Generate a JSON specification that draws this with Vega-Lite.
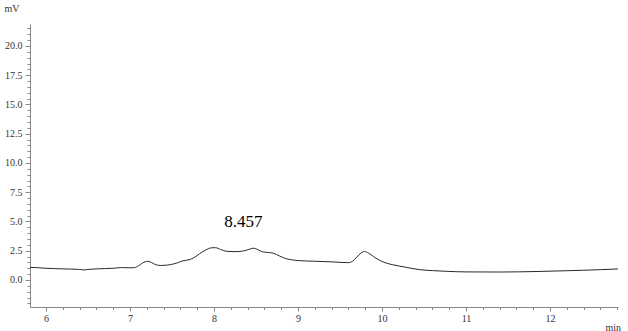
{
  "$schema": "https://vega.github.io/schema/vega-lite/v6.json",
  "autosize": "none",
  "width": 588,
  "height": 283,
  "padding": {"left": 30, "top": 24, "right": 10, "bottom": 24},
  "background": "white",
  "config": {"view": {"stroke": null}, "axis": {"grid": false}},
  "resolve": {"axis": {"x": "independent", "y": "independent"}, "scale": {"x": "shared", "y": "shared"}},
  "datasets": {
    "trace": [
      {"t": 5.81, "v": 1.08}, {"t": 5.9, "v": 1.05}, {"t": 6.0, "v": 1.0}, {"t": 6.2, "v": 0.95},
      {"t": 6.4, "v": 0.9}, {"t": 6.45, "v": 0.86}, {"t": 6.5, "v": 0.9}, {"t": 6.6, "v": 0.95},
      {"t": 6.8, "v": 1.0}, {"t": 6.9, "v": 1.06}, {"t": 7.0, "v": 1.04}, {"t": 7.05, "v": 1.05},
      {"t": 7.1, "v": 1.2}, {"t": 7.15, "v": 1.45}, {"t": 7.21, "v": 1.6}, {"t": 7.26, "v": 1.48},
      {"t": 7.3, "v": 1.33}, {"t": 7.36, "v": 1.24}, {"t": 7.45, "v": 1.28}, {"t": 7.52, "v": 1.37},
      {"t": 7.58, "v": 1.5}, {"t": 7.62, "v": 1.62}, {"t": 7.7, "v": 1.72}, {"t": 7.76, "v": 1.9},
      {"t": 7.83, "v": 2.25}, {"t": 7.9, "v": 2.55}, {"t": 7.97, "v": 2.75}, {"t": 8.02, "v": 2.76},
      {"t": 8.08, "v": 2.6}, {"t": 8.15, "v": 2.45}, {"t": 8.25, "v": 2.42}, {"t": 8.35, "v": 2.48},
      {"t": 8.42, "v": 2.62}, {"t": 8.47, "v": 2.72}, {"t": 8.52, "v": 2.6}, {"t": 8.58, "v": 2.4},
      {"t": 8.65, "v": 2.35}, {"t": 8.71, "v": 2.28}, {"t": 8.78, "v": 2.05}, {"t": 8.87, "v": 1.8},
      {"t": 8.95, "v": 1.7}, {"t": 9.0, "v": 1.66}, {"t": 9.2, "v": 1.6}, {"t": 9.4, "v": 1.55},
      {"t": 9.6, "v": 1.48}, {"t": 9.65, "v": 1.6}, {"t": 9.7, "v": 1.95}, {"t": 9.75, "v": 2.3},
      {"t": 9.79, "v": 2.43}, {"t": 9.84, "v": 2.3}, {"t": 9.9, "v": 2.0}, {"t": 9.98, "v": 1.65},
      {"t": 10.05, "v": 1.45}, {"t": 10.13, "v": 1.3}, {"t": 10.29, "v": 1.08}, {"t": 10.45, "v": 0.88},
      {"t": 10.6, "v": 0.8}, {"t": 10.77, "v": 0.74}, {"t": 11.0, "v": 0.69}, {"t": 11.4, "v": 0.68},
      {"t": 11.88, "v": 0.73}, {"t": 12.2, "v": 0.79}, {"t": 12.4, "v": 0.83}, {"t": 12.6, "v": 0.88},
      {"t": 12.81, "v": 0.94}
    ],
    "peaks": [{"t": 8.457, "v": 4.53, "label": "8.457"}]
  },
  "layer": [
    {
      "data": {"name": "trace"},
      "mark": {"type": "line", "opacity": 0},
      "encoding": {
        "x": {
          "field": "t", "type": "quantitative",
          "scale": {"domain": [5.81, 12.81], "nice": false, "zero": false},
          "axis": {
            "orient": "bottom",
            "values": [5.8, 6.2, 6.4, 6.6, 6.8, 7.2, 7.4, 7.6, 7.8, 8.2, 8.4, 8.6, 8.8, 9.2, 9.4, 9.6, 9.8, 10.2, 10.4, 10.6, 10.8, 11.2, 11.4, 11.6, 11.8, 12.2, 12.4, 12.6, 12.8],
            "labels": false, "domain": false, "tickColor": "#888888", "tickSize": 2.5, "title": null
          }
        },
        "y": {
          "field": "v", "type": "quantitative",
          "scale": {"domain": [-2.31, 21.88], "nice": false, "zero": false},
          "axis": {
            "orient": "left",
            "values": [-2, -1.5, -1, -0.5, 0.5, 1, 1.5, 2, 3, 3.5, 4, 4.5, 5.5, 6, 6.5, 7, 8, 8.5, 9, 9.5, 10.5, 11, 11.5, 12, 13, 13.5, 14, 14.5, 15.5, 16, 16.5, 17, 18, 18.5, 19, 19.5, 20.5, 21, 21.5],
            "labels": false, "domain": false, "tickColor": "#888888", "tickSize": 3, "title": null
          }
        }
      }
    },
    {
      "data": {"name": "trace"},
      "mark": {"type": "line", "color": "#2a2a2a", "strokeWidth": 1, "interpolate": "monotone", "clip": true},
      "encoding": {
        "x": {
          "field": "t", "type": "quantitative",
          "axis": {
            "orient": "bottom",
            "values": [6, 7, 8, 9, 10, 11, 12],
            "format": "d",
            "domainColor": "#888888", "tickColor": "#888888", "tickSize": 4,
            "labelFont": "Liberation Serif", "labelFontSize": 10, "labelColor": "#333333", "labelPadding": 2,
            "title": "min", "titleFont": "Liberation Serif", "titleFontSize": 10, "titleFontWeight": "normal",
            "titleColor": "#333333", "titleAlign": "left", "titleBaseline": "middle",
            "titleX": 575, "titleY": 20
          }
        },
        "y": {
          "field": "v", "type": "quantitative",
          "axis": {
            "orient": "left",
            "values": [0, 2.5, 5, 7.5, 10, 12.5, 15, 17.5, 20],
            "format": ".1f",
            "domainColor": "#888888", "tickColor": "#888888", "tickSize": 5,
            "labelFont": "Liberation Serif", "labelFontSize": 10, "labelColor": "#333333", "labelPadding": 3,
            "title": "mV", "titleFont": "Liberation Serif", "titleFontSize": 10, "titleFontWeight": "normal",
            "titleColor": "#333333", "titleAngle": 0, "titleAlign": "left", "titleBaseline": "middle",
            "titleX": -26, "titleY": -16
          }
        }
      }
    },
    {
      "data": {"name": "peaks"},
      "mark": {"type": "text", "font": "Liberation Serif", "fontSize": 17, "color": "#000000", "align": "center", "baseline": "alphabetic", "dx": -9},
      "encoding": {
        "x": {"field": "t", "type": "quantitative", "axis": null},
        "y": {"field": "v", "type": "quantitative", "axis": null},
        "text": {"field": "label"}
      }
    }
  ]
}
